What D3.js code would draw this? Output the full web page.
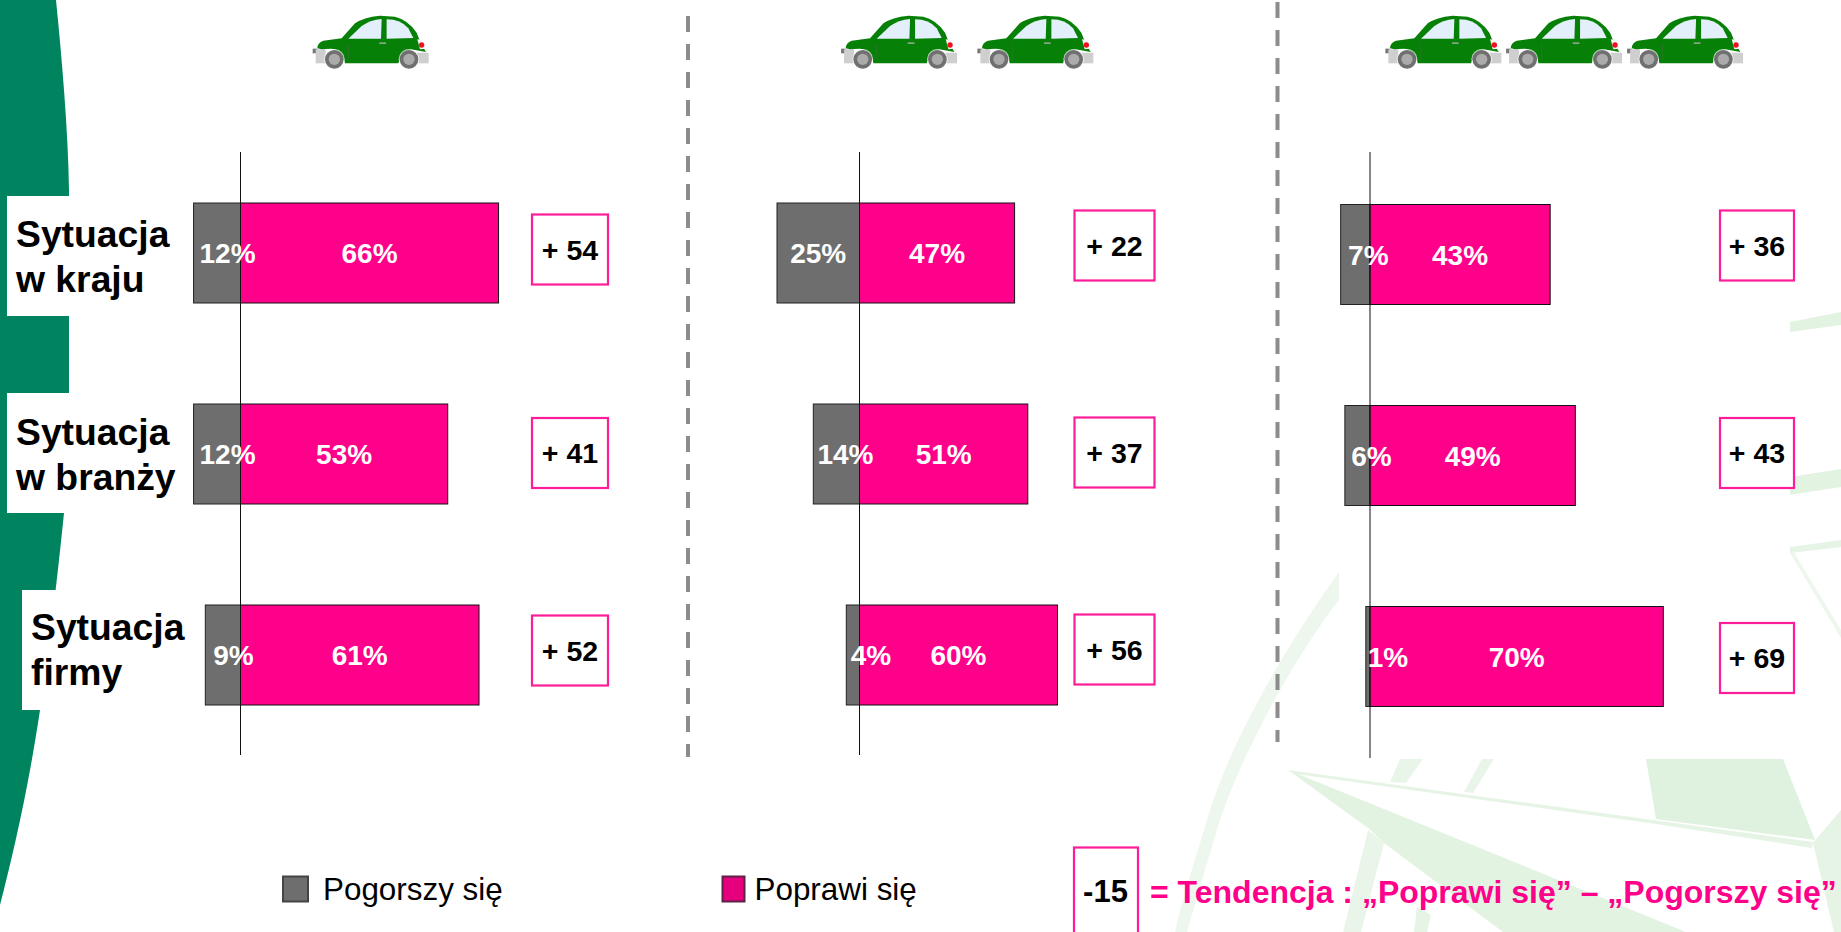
<!DOCTYPE html>
<meta charset="utf-8" />
<style>
  body {
    margin: 0;
    background: #fff;
  }
  svg {
    display: block;
    font-family: "Liberation Sans", Arial, sans-serif;
  }
</style>
<svg width="1841" height="932"></svg>
<script src="https://d3js.org/d3.v7.js"></script>
<script>
  /* global d3 */

  // values
  var categories = ["Sytuacja w kraju", "Sytuacja w branży", "Sytuacja firmy"];
  var worseOne = [12, 12, 9];
  var betterOne = [66, 53, 61];
  var tendencyOne = [54, 41, 52];
  var worseTwo = [25, 14, 4];
  var betterTwo = [47, 51, 60];
  var tendencyTwo = [22, 37, 56];
  var worseThree = [7, 6, 1];
  var betterThree = [43, 49, 70];
  var tendencyThree = [36, 43, 69];
  var legendNames = ["Pogorszy się", "Poprawi się"];

  var PINK = "#ff008a",
    GREY = "#6e6e6e",
    BOX_PINK = "#ff1c98";

  var svg = d3.select("svg");

  // layout of each panel, the nudge moves the grey label the way the slide did
  var panels = [
    {
      worse: worseOne, better: betterOne, tendency: tendencyOne,
      zero: 240.5, k: 3.91, top: 203, axis: [152, 755],
      boxX: 532, boxW: 76, boxY: [214.5, 418, 615.5], nudge: [10.5, 10.5, 10.5], cars: [280]
    },
    {
      worse: worseTwo, better: betterTwo, tendency: tendencyTwo,
      zero: 859.5, k: 3.3, top: 203, axis: [152, 755],
      boxX: 1074.5, boxW: 80, boxY: [210.5, 417.5, 614.5], nudge: [0, 9, 18], cars: [808.4, 944.7]
    },
    {
      worse: worseThree, better: betterThree, tendency: tendencyThree,
      zero: 1370, k: 4.19, top: 204.5, axis: [152, 758],
      boxX: 1720, boxW: 74, boxY: [210.5, 418, 623], nudge: [13, 14, 20], cars: [1352.7, 1473.4, 1594.4]
    }
  ];

  drawBackground();
  drawCarSymbol();

  // row labels sit on white boxes over the green stripe
  var labelBoxes = [
    { x: 7, y: 196, h: 120, tx: 16, lines: ["Sytuacja", "w kraju"], by: 247 },
    { x: 7, y: 393, h: 120, tx: 16, lines: ["Sytuacja", "w branży"], by: 444.5 },
    { x: 22, y: 590, h: 120, tx: 31, lines: ["Sytuacja", "firmy"], by: 640 }
  ];
  labelBoxes.forEach(function (d) {
    svg.append("rect").attr("x", d.x).attr("y", d.y).attr("width", 175).attr("height", d.h).attr("fill", "#fff");
    d.lines.forEach(function (t, i) {
      svg
        .append("text")
        .attr("x", d.tx)
        .attr("y", d.by + i * 45)
        .attr("font-size", 37.3)
        .attr("font-weight", "bold")
        .text(t);
    });
  });

  // dashed separators
  var separators = [
    { x: 688, y1: 16, y2: 757 },
    { x: 1277.5, y1: 2, y2: 742 }
  ];
  svg
    .selectAll("line.sep")
    .data(separators)
    .enter()
    .append("line")
    .attr("class", "sep")
    .attr("x1", function (d) { return d.x; })
    .attr("x2", function (d) { return d.x; })
    .attr("y1", function (d) { return d.y1; })
    .attr("y2", function (d) { return d.y2; })
    .attr("stroke", "#8c8c8c")
    .attr("stroke-width", 4)
    .attr("stroke-dasharray", "16 12");

  panels.forEach(drawPanel);
  drawLegend();

  function drawPanel(p) {
    var x = d3.scaleLinear().domain([0, 100]).range([p.zero, p.zero + 100 * p.k]);
    var y = d3
      .scaleBand()
      .domain(categories)
      .range([p.top, p.top + 502])
      .paddingInner(1 - 100 / 201);

    var g = svg.append("g");

    var rows = categories.map(function (c, i) {
      return { cat: c, worse: p.worse[i], better: p.better[i], tendency: p.tendency[i], i: i };
    });

    g.selectAll("rect.worse")
      .data(rows)
      .enter()
      .append("rect")
      .attr("class", "worse")
      .attr("x", function (d) { return x(-d.worse); })
      .attr("y", function (d) { return y(d.cat); })
      .attr("width", function (d) { return x(0) - x(-d.worse); })
      .attr("height", y.bandwidth())
      .attr("fill", GREY)
      .attr("stroke", "#222")
      .attr("stroke-width", 1);

    g.selectAll("rect.better")
      .data(rows)
      .enter()
      .append("rect")
      .attr("class", "better")
      .attr("x", x(0))
      .attr("y", function (d) { return y(d.cat); })
      .attr("width", function (d) { return x(d.better) - x(0); })
      .attr("height", y.bandwidth())
      .attr("fill", PINK)
      .attr("stroke", "#111")
      .attr("stroke-width", 1);

    g.append("line")
      .attr("x1", x(0))
      .attr("x2", x(0))
      .attr("y1", p.axis[0])
      .attr("y2", p.axis[1])
      .attr("stroke", "#111")
      .attr("stroke-width", 1);

    g.selectAll("text.worse")
      .data(rows)
      .enter()
      .append("text")
      .attr("class", "worse")
      .attr("x", function (d) { return x(-d.worse / 2) + p.nudge[d.i]; })
      .attr("y", function (d) { return y(d.cat) + y.bandwidth() / 2 + 10; })
      .attr("text-anchor", "middle")
      .attr("font-size", 28)
      .attr("font-weight", "bold")
      .attr("fill", "#fff")
      .text(function (d) { return d.worse + "%"; });

    g.selectAll("text.better")
      .data(rows)
      .enter()
      .append("text")
      .attr("class", "better")
      .attr("x", function (d) { return x(d.better / 2); })
      .attr("y", function (d) { return y(d.cat) + y.bandwidth() / 2 + 10; })
      .attr("text-anchor", "middle")
      .attr("font-size", 28)
      .attr("font-weight", "bold")
      .attr("fill", "#fff")
      .text(function (d) { return d.better + "%"; });

    // tendency boxes
    g.selectAll("rect.box")
      .data(rows)
      .enter()
      .append("rect")
      .attr("class", "box")
      .attr("x", p.boxX)
      .attr("y", function (d) { return p.boxY[d.i]; })
      .attr("width", p.boxW)
      .attr("height", 70)
      .attr("fill", "#fff")
      .attr("stroke", BOX_PINK)
      .attr("stroke-width", 2.2);

    g.selectAll("text.box")
      .data(rows)
      .enter()
      .append("text")
      .attr("class", "box")
      .attr("x", p.boxX + p.boxW / 2)
      .attr("y", function (d) { return p.boxY[d.i] + 45; })
      .attr("text-anchor", "middle")
      .attr("font-size", 28.5)
      .attr("font-weight", "bold")
      .text(function (d) { return "+ " + d.tendency; });

    p.cars.forEach(function (cx) {
      svg.append("use").attr("href", "#car").attr("transform", "translate(" + cx + ",0) scale(0.3333)");
    });
  }

  function drawLegend() {
    var keys = [
      { name: legendNames[0], x: 283, w: 25, fill: GREY, stroke: "#444", tx: 323 },
      { name: legendNames[1], x: 722.5, w: 22, fill: "#e6007e", stroke: "#5e2245", tx: 754.5 }
    ];
    keys.forEach(function (k) {
      svg
        .append("rect")
        .attr("x", k.x)
        .attr("y", 876.5)
        .attr("width", k.w)
        .attr("height", 25)
        .attr("fill", k.fill)
        .attr("stroke", k.stroke)
        .attr("stroke-width", 2);
      svg.append("text").attr("x", k.tx).attr("y", 900).attr("font-size", 31.4).text(k.name);
    });

    svg
      .append("rect")
      .attr("x", 1074)
      .attr("y", 847.5)
      .attr("width", 64)
      .attr("height", 100)
      .attr("fill", "#fff")
      .attr("stroke", BOX_PINK)
      .attr("stroke-width", 2.2);
    svg
      .append("text")
      .attr("x", 1105.5)
      .attr("y", 902)
      .attr("text-anchor", "middle")
      .attr("font-size", 31)
      .attr("font-weight", "bold")
      .text("-15");
    svg
      .append("text")
      .attr("x", 1150)
      .attr("y", 903)
      .attr("font-size", 32)
      .attr("font-weight", "bold")
      .attr("fill", PINK)
      .text("= Tendencja : „Poprawi się” – „Pogorszy się”");
  }

  function drawBackground() {
    // green stripe on the left
    svg
      .append("path")
      .attr("d", "M0,0 L56,0 C62,60 68,130 69,190 L69,393 L64,513 C56,590 50,640 40,710 C28,790 14,850 0,905 Z")
      .attr("fill", "#00845f");

    // pale leaf pieces behind the chart
    var leaves = [
      { fill: "#def2df", pts: [[1646, 759], [1783, 759], [1815, 840], [1656, 819]] },
      { fill: "#e2f3e2", pts: [[1288, 770], [1686, 932], [1503, 932], [1384, 843], [1368, 828]] },
      { fill: "#e6f4e6", pts: [[1288, 770], [1813, 842], [1812, 848], [1656, 824], [1296, 774]] },
      { fill: "#e6f4e6", pts: [[1813, 843], [1841, 810], [1841, 932], [1834, 932]] },
      { fill: "#eaf5ea", pts: [[1368, 830], [1384, 843], [1361, 932], [1343, 932]] },
      { fill: "#eaf5ea", pts: [[1400, 759], [1423, 759], [1406, 783], [1390, 782]] },
      { fill: "#eaf5ea", pts: [[1482, 759], [1494, 759], [1473, 793], [1464, 792]] },
      { fill: "#e6f4e6", pts: [[1417, 907], [1431, 915], [1427, 932], [1414, 932]] },
      { fill: "#e2f3e2", pts: [[1790, 322], [1841, 312], [1841, 325], [1790, 332]] },
      { fill: "#e2f3e2", pts: [[1790, 477], [1841, 469], [1841, 487], [1790, 495]] },
      { fill: "#e6f4e6", pts: [[1790, 547], [1841, 540], [1841, 547], [1790, 553]] },
      { fill: "#eef7ee", pts: [[1790, 553], [1793, 551], [1841, 630], [1841, 638]] }
    ];
    svg
      .selectAll("polygon.leaf")
      .data(leaves)
      .enter()
      .append("polygon")
      .attr("class", "leaf")
      .attr("points", function (d) { return d.pts.join(" "); })
      .attr("fill", function (d) { return d.fill; });

    // long thin curved rib
    svg
      .append("path")
      .attr("d", "M1339,572 C1290,640 1230,740 1207,820 C1195,860 1182,900 1175,932 L1187,932 C1196,900 1208,860 1220,820 C1245,745 1300,650 1339,600 Z")
      .attr("fill", "#eef7ee");
  }

  function drawCarSymbol() {
    // traced from the clip art, units are 1/3 px
    var car = svg.append("defs").append("g").attr("id", "car");
    car.append("rect").attr("x", 98).attr("y", 146).attr("width", 14).attr("height", 14).attr("fill", "#777");
    car.append("rect").attr("x", 107).attr("y", 148).attr("width", 30).attr("height", 42).attr("fill", "#cfcfcf");
    car.append("rect").attr("x", 410).attr("y", 158).attr("width", 36).attr("height", 32).attr("fill", "#cfcfcf");
    car
      .append("path")
      .attr("d", "M112,145 Q112,128 130,122 L185,115 L225,70 Q250,52 300,47 L345,50 Q385,60 410,98 L422,128 L438,156 L405,150 Q380,142 362,170 L355,190 L195,190 Q190,150 155,146 Q130,146 125,148 Z")
      .attr("fill", "#078007");
    car.append("path").attr("d", "M205,116 L245,78 Q270,60 305,57 L303,116 Z").attr("fill", "#e3f0fc");
    car.append("path").attr("d", "M320,58 Q362,58 385,85 L400,114 L320,116 Z").attr("fill", "#e3f0fc");
    car.append("path").attr("d", "M412,118 L428,120 L438,146 L420,148 Z").attr("fill", "#f4f4f4");
    car.append("circle").attr("cx", 425).attr("cy", 135).attr("r", 8).attr("fill", "#f01020");
    car.append("rect").attr("x", 298).attr("y", 127).attr("width", 20).attr("height", 5).attr("fill", "#8aa68a");
    car.append("line").attr("x1", 205).attr("x2", 205).attr("y1", 130).attr("y2", 178).attr("stroke", "#3c6e3c").attr("stroke-width", 2);
    [163, 387].forEach(function (cx) {
      car.append("circle").attr("cx", cx).attr("cy", 178).attr("r", 31).attr("fill", "#fff").attr("opacity", 0.7);
      car.append("circle").attr("cx", cx).attr("cy", 178).attr("r", 28).attr("fill", "#707070");
      car.append("circle").attr("cx", cx).attr("cy", 178).attr("r", 17).attr("fill", "#ababab");
    });
  }
</script>
